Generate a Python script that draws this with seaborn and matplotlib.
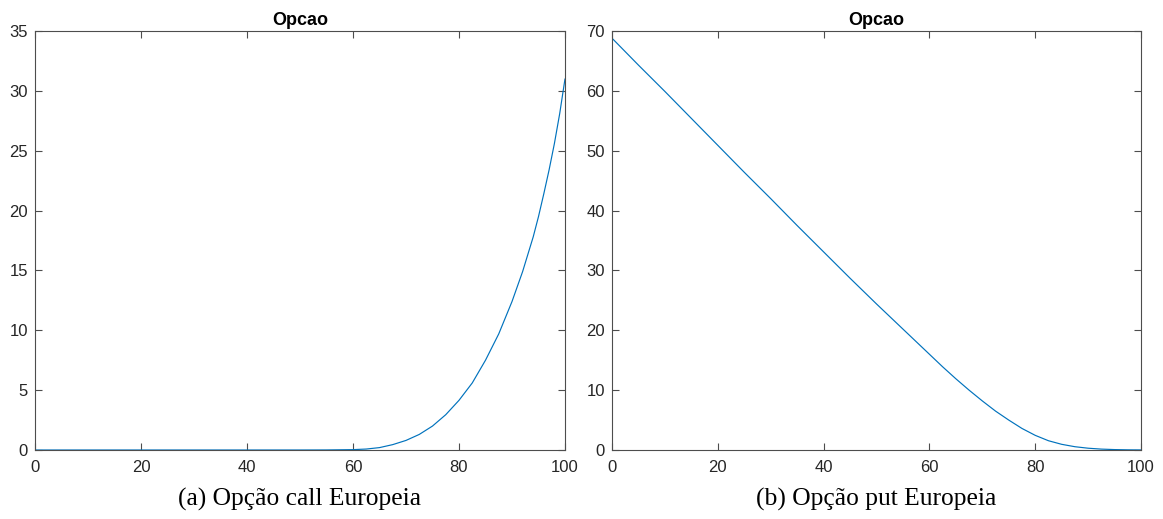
import numpy as np
import pandas as pd
import matplotlib
matplotlib.use("Agg")
import matplotlib.pyplot as plt
import seaborn as sns

# ---- data ----
call_x = [0, 10, 20, 30, 40, 50, 55, 60, 62.5, 65, 67.5, 70, 72.5, 75, 77.5,
          80, 82.5, 85, 87.5, 90, 92, 94, 95, 96, 97, 98, 99, 100]
call_y = [0, 0, 0, 0, 0, 0, 0.005, 0.03, 0.08, 0.2, 0.45, 0.8, 1.3, 2.0, 2.95,
          4.15, 5.6, 7.5, 9.7, 12.4, 14.9, 17.8, 19.5, 21.4, 23.4, 25.6, 28.1, 31.0]

put_x = [0, 5, 10, 15, 20, 25, 30, 35, 40, 45, 50, 55, 57.5, 60, 62.5, 65,
         67.5, 70, 72.5, 75, 77.5, 80, 82.5, 85, 87.5, 90, 92.5, 95, 97.5, 100]
put_y = [68.8, 64.3, 59.9, 55.4, 50.9, 46.4, 42.0, 37.5, 33.1, 28.7, 24.4,
         20.2, 18.1, 16.0, 13.9, 11.9, 10.0, 8.2, 6.5, 5.0, 3.6, 2.45, 1.55,
         0.95, 0.55, 0.3, 0.15, 0.07, 0.03, 0.01]

titles = ["Opcao", "Opcao"]
captions = ["(a) Opção call Europeia", "(b) Opção put Europeia"]
call_yticks = [0, 5, 10, 15, 20, 25, 30, 35]
put_yticks = [0, 10, 20, 30, 40, 50, 60, 70]
xticks = [0, 20, 40, 60, 80, 100]

sns.set_theme(style="white")
plt.rcParams["font.family"] = ["Liberation Sans", "DejaVu Sans"]

W, H = 1163, 519
fig = plt.figure(figsize=(W / 100, H / 100), dpi=100)

line_color = "#0072BD"
axis_color = "#4d4d4d"
label_color = "#262626"

def px_axes(x0, x1, ytop, ybot):
    return fig.add_axes([x0 / W, 1 - ybot / H, (x1 - x0) / W, (ybot - ytop) / H])

ax1 = px_axes(35, 565, 31, 450)
ax2 = px_axes(612, 1141, 31, 450)

df_call = pd.DataFrame({"x": call_x, "y": call_y})
df_put = pd.DataFrame({"x": put_x, "y": put_y})

sns.lineplot(data=df_call, x="x", y="y", ax=ax1, color=line_color, linewidth=0.85)
sns.lineplot(data=df_put, x="x", y="y", ax=ax2, color=line_color, linewidth=0.85)

for ax, yt, title, cap in [(ax1, call_yticks, titles[0], captions[0]),
                           (ax2, put_yticks, titles[1], captions[1])]:
    ax.set_xlim(0, 100)
    ax.set_ylim(yt[0], yt[-1])
    ax.set_xticks(xticks)
    ax.set_yticks(yt)
    ax.set_xlabel("")
    ax.set_ylabel("")
    for s in ax.spines.values():
        s.set_visible(True)
        s.set_color(axis_color)
        s.set_linewidth(0.8)
    ax.tick_params(direction="in", length=5, width=0.8, color=axis_color,
                   top=True, right=True, bottom=True, left=True,
                   labelsize=12, labelcolor=label_color)
    ax.tick_params(axis="x", pad=7)
    ax.tick_params(axis="y", pad=5)
    ax.set_title(title, fontsize=13, fontweight="bold", color="black", pad=4)
    ax.text(0.5, (450 - 499) / 419, cap, transform=ax.transAxes, ha="center",
            va="center", fontsize=18.4,
            family=["Liberation Serif", "DejaVu Serif"], color="black")
    ax.grid(False)

fig.savefig("out.png", dpi=100)
